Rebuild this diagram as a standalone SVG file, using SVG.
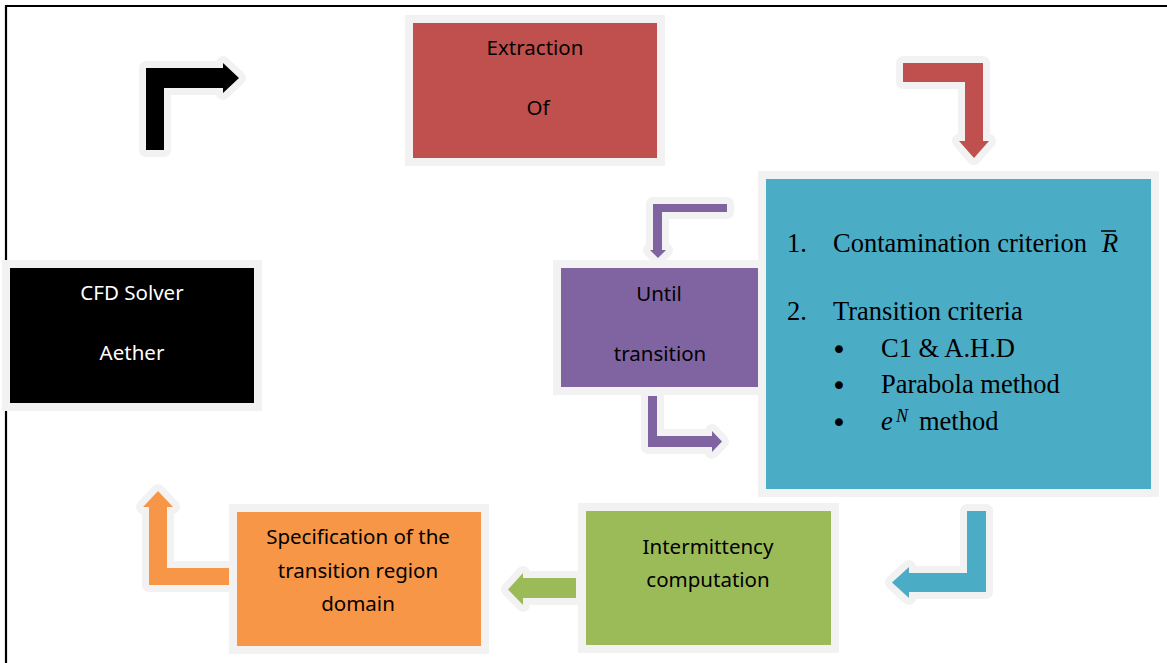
<svg xmlns="http://www.w3.org/2000/svg" width="1167" height="663" viewBox="0 0 1167 663">
<style>
.box{stroke:#f2f2f2;stroke-width:16;paint-order:stroke;}
.arr{stroke:#f2f2f2;stroke-width:14;stroke-linejoin:round;paint-order:stroke;}
.t{font-family:"Noto Sans","Open Sans",sans-serif;font-size:20.5px;text-anchor:middle;fill:#000;}
.w{fill:#fff;}
.s{font-family:"Liberation Serif","Times New Roman",serif;font-size:26.5px;fill:#000;}
.b{font-family:"DejaVu Sans",sans-serif;font-size:27px;fill:#000;text-anchor:middle;}
.i{font-style:italic;}
</style>
<rect width="1167" height="663" fill="#fff"/>
<path d="M5,6 H1167 M6,5 V663" stroke="#000" stroke-width="2.2" fill="none"/>
<g id="connectors">
<polygon class="arr" fill="#000" points="146,150 146,68 223,68 223,63 239,78 223,93 223,88 164,88 164,150"/>
<polygon class="arr" fill="#c0504d" points="903,63 983,63 983,141 989,141 974,158 959,141 965,141 965,82 903,82"/>
<polygon class="arr" fill="#8064a2" points="727,204 653,204 653,250 650,250 658,258 666,250 662,250 662,212 727,212"/>
<polygon class="arr" fill="#8064a2" points="648,396 657,396 657,436 712,436 712,431 722,441.5 712,452 712,447 648,447"/>
<polygon class="arr" fill="#4bacc6" points="967,511 986,511 986,592 909,592 909,598 892,582.5 909,567 909,573 967,573"/>
<polygon class="arr" fill="#9bbb59" points="576,578 523,578 523,573 508,589.5 523,605 523,598 576,598"/>
<polygon class="arr" fill="#f79646" points="230,568 230,585 149,585 149,507 143,507 158,491 173,507 167,507 167,568"/>
</g>
<g id="extraction">
<rect class="box" x="413" y="23" width="244" height="135" fill="#c0504d"/>
<text class="t" x="535" y="55">Extraction</text>
<text class="t" x="538" y="115">Of</text>
</g>
<g id="cfd">
<rect class="box" x="10" y="268" width="244" height="135" fill="#000"/>
<text class="t w" x="132" y="300">CFD Solver</text>
<text class="t w" x="132" y="360">Aether</text>
</g>
<g id="until">
<rect class="box" x="561" y="268" width="198" height="119" fill="#8064a2"/>
<text class="t" x="659" y="301">Until</text>
<text class="t" x="660" y="361">transition</text>
</g>
<g id="criteria">
<rect class="box" x="766" y="179" width="385" height="310" fill="#4bacc6"/>
<text class="s" x="787" y="252">1.</text>
<text class="s" x="833" y="252">Contamination criterion <tspan class="i" x="1102">R</tspan></text>
<line x1="1101" y1="231" x2="1116" y2="231" stroke="#000" stroke-width="1.5"/>
<text class="s" x="787" y="320">2.</text>
<text class="s" x="833" y="320">Transition criteria</text>
<text class="b" x="839" y="359">•</text>
<text class="s" x="881" y="357">C1 &amp; A.H.D</text>
<text class="b" x="839" y="395">•</text>
<text class="s" x="881" y="393">Parabola method</text>
<text class="b" x="839" y="432">•</text>
<text class="s" x="881" y="430"><tspan class="i">e</tspan><tspan class="i" x="896" y="422" style="font-size:18px">N</tspan><tspan x="919" y="430">method</tspan></text>
</g>
<g id="intermittency">
<rect class="box" x="586" y="511" width="245" height="134" fill="#9bbb59"/>
<text class="t" x="708" y="554">Intermittency</text>
<text class="t" x="708" y="587">computation</text>
</g>
<g id="specification">
<rect class="box" x="237" y="512" width="244" height="134" fill="#f79646"/>
<text class="t" x="358" y="544">Specification of the</text>
<text class="t" x="358" y="578">transition region</text>
<text class="t" x="358" y="611">domain</text>
</g>
</svg>
